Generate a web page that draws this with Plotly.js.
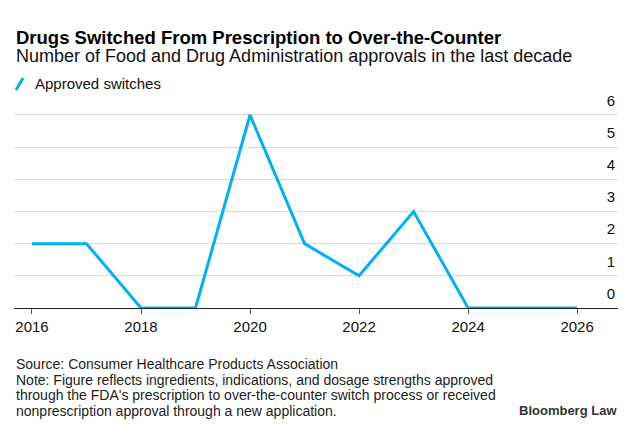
<!DOCTYPE html>
<html>
<head>
<meta charset="utf-8">
<script src="https://cdn.plot.ly/plotly-3.0.1.min.js"></script>
<style>html,body{margin:0;padding:0;background:#fff;}#chart{width:633px;height:430px;}</style>
</head>
<body>
<div id="chart"></div>
<script>
const years = [2016, 2017, 2018, 2019, 2020, 2021, 2022, 2023, 2024, 2025, 2026];
const approvedSwitches = [2, 2, 0, 0, 6, 2, 1, 3, 0, 0, 0];
const xTicks = [2016, 2018, 2020, 2022, 2024, 2026];
const yTicks = [0, 1, 2, 3, 4, 5, 6];
const footerLines = [
  'Source: Consumer Healthcare Products Association',
  'Note: Figure reflects ingredients, indications, and dosage strengths approved',
  'through the FDA\'s prescription to over-the-counter switch process or received',
  'nonprescription approval through a new application.'
];

const FONT = '"Liberation Sans", Arial, sans-serif';
const BLUE = '#00b0fa';

const W = 633, H = 430, ML = 14, MR = 15, MT = 90, MB = 122;
const PW = W - ML - MR, PH = H - MT - MB;
const px = x => (x - ML) / PW;          // pixel -> paper x
const py = y => (H - MB - y) / PH;      // pixel -> paper y

const trace = {
  x: years, y: approvedSwitches, type: 'scatter', mode: 'lines',
  name: 'Approved switches',
  line: {color: BLUE, width: 3, shape: 'linear'},
  cliponaxis: false, hoverinfo: 'skip'
};

const annotations = [
  {text: '<b>Drugs Switched From Prescription to Over-the-Counter</b>', x: px(14), y: py(37),
   xanchor: 'left', yanchor: 'middle', font: {size: 18.5, color: '#000', family: FONT}},
  {text: 'Number of Food and Drug Administration approvals in the last decade', x: px(14), y: py(56),
   xanchor: 'left', yanchor: 'middle', font: {size: 18, color: '#111', family: FONT}},
  {text: 'Approved switches', x: px(33), y: py(84),
   xanchor: 'left', yanchor: 'middle', font: {size: 15, color: '#111', family: FONT}},
  {text: '<b>Bloomberg Law</b>', x: px(619), y: py(410),
   xanchor: 'right', yanchor: 'middle', font: {size: 13, color: '#333', family: FONT}}
];
const footerY = [364, 380, 395, 411];
footerLines.forEach((t, i) => annotations.push({
  text: t, x: px(14), y: py(footerY[i]), xanchor: 'left', yanchor: 'middle', align: 'left',
  font: {size: 14, color: '#222', family: FONT}
}));
annotations.forEach(a => { a.xref = 'paper'; a.yref = 'paper'; a.showarrow = false; });

const layout = {
  width: W, height: H,
  margin: {l: ML, r: MR, t: MT, b: MB},
  paper_bgcolor: '#fff', plot_bgcolor: '#fff',
  font: {family: FONT, color: '#111', size: 14},
  showlegend: false,
  xaxis: {
    range: [2015.67, 2026.75],
    tickvals: xTicks, ticktext: xTicks.map(String),
    showgrid: false, zeroline: false,
    showline: true, linecolor: '#222', linewidth: 1,
    ticks: 'outside', ticklen: 5, tickcolor: '#555', tickwidth: 1,
    tickfont: {size: 15, color: '#111', family: FONT},
    fixedrange: true
  },
  yaxis: {
    range: [0, PH / 32.17], side: 'right',
    tickvals: yTicks, ticktext: yTicks.map(String),
    ticklabelposition: 'inside top',
    ticklabelshift: -4,
    showgrid: true, gridcolor: '#dcdcdc', gridwidth: 1,
    zeroline: false, showline: false, ticks: '',
    tickfont: {size: 15, color: '#111', family: FONT},
    fixedrange: true
  },
  shapes: [{type: 'line', xref: 'paper', yref: 'paper',
    x0: px(16), y0: py(90), x1: px(23), y1: py(78),
    line: {color: BLUE, width: 3}}],
  annotations: annotations
};

Plotly.newPlot('chart', [trace], layout, {displayModeBar: false, staticPlot: true});
</script>
</body>
</html>
